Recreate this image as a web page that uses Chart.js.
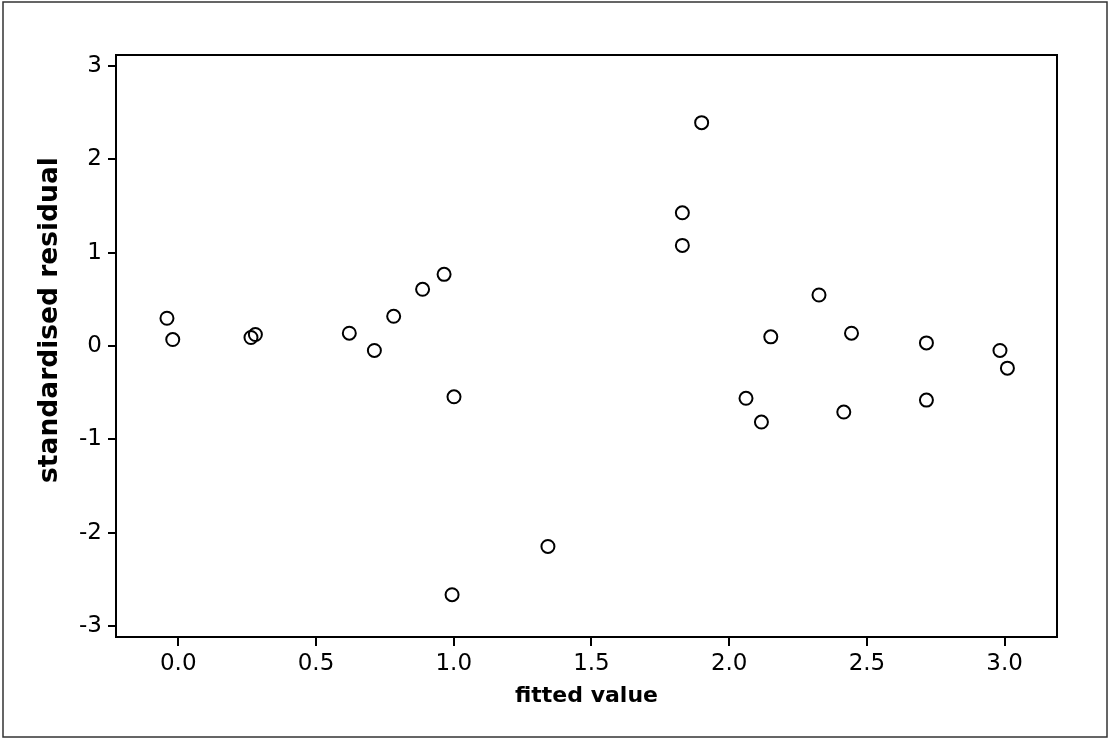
<!DOCTYPE html>
<html>
<head>
<meta charset="utf-8">
<script src="https://cdn.jsdelivr.net/npm/chart.js@4/dist/chart.umd.min.js"></script>
<style>
  html, body { margin: 0; padding: 0; background: #fff; }
  #wrap { width: 1109px; height: 738px; position: relative; }
</style>
</head>
<body>
<div id="wrap"><canvas id="residualChart"></canvas></div>
<script>
// fitted values and standardised residuals
const fittedValues = [-0.041, -0.020, 0.264, 0.280, 0.621, 0.712, 0.782, 0.887, 0.965, 1.001,
  0.994, 1.342, 1.830, 1.830, 1.900, 2.061, 2.117, 2.151, 2.326, 2.416,
  2.444, 2.716, 2.716, 2.983, 3.010];
const stdResiduals = [0.297, 0.069, 0.091, 0.123, 0.137, -0.048, 0.318, 0.607, 0.767, -0.544,
  -2.662, -2.146, 1.426, 1.077, 2.391, -0.560, -0.814, 0.098, 0.546, -0.707,
  0.137, 0.033, -0.579, -0.048, -0.237];
const xTicks = [0.0, 0.5, 1.0, 1.5, 2.0, 2.5, 3.0];
const yTicks = [-3, -2, -1, 0, 1, 2, 3];
const xTitle = "fitted value";
const yTitle = "standardised residual";

const points = fittedValues.map((x, i) => ({ x: x, y: stdResiduals[i] }));

const frame = {
  id: "frame",
  afterDraw(chart) {
    const { ctx, chartArea } = chart;
    ctx.save();
    ctx.strokeStyle = "#000";
    ctx.lineWidth = 2;
    ctx.strokeRect(chartArea.left, chartArea.top, chartArea.right - chartArea.left, chartArea.bottom - chartArea.top);
    // outer border of the figure
    ctx.strokeStyle = "#333";
    ctx.lineWidth = 1.5;
    ctx.strokeRect(3, 2, 1104, 735);
    // y axis title
    ctx.fillStyle = "#000";
    ctx.font = "bold 26.5px 'DejaVu Sans'";
    ctx.textAlign = "center";
    ctx.textBaseline = "middle";
    ctx.translate(50, 320);
    ctx.rotate(-Math.PI / 2);
    ctx.fillText(yTitle, 0, 0);
    ctx.restore();
  }
};

const tickFont = { family: "'DejaVu Sans'", size: 23 };

new Chart(document.getElementById("residualChart"), {
  type: "scatter",
  data: {
    datasets: [{
      data: points,
      pointStyle: "circle",
      pointRadius: 6.5,
      pointHoverRadius: 6.5,
      pointBorderWidth: 2,
      borderColor: "#000",
      backgroundColor: "rgba(255,255,255,0)"
    }]
  },
  options: {
    responsive: true,
    maintainAspectRatio: false,
    animation: false,
    layout: { padding: { left: 0, top: 55, right: 52, bottom: 0 } },
    plugins: { legend: { display: false }, tooltip: { enabled: false } },
    scales: {
      x: {
        type: "linear",
        min: -0.226,
        max: 3.19,
        afterFit: (scale) => { scale.height = 101; },
        afterBuildTicks: (scale) => { scale.ticks = xTicks.map(v => ({ value: v })); },
        ticks: { font: tickFont, color: "#000", padding: 4, callback: (v) => v.toFixed(1) },
        grid: { display: true, drawOnChartArea: false, drawTicks: true, tickLength: 9, color: "#000", lineWidth: 2 },
        border: { display: true, color: "#000", width: 2 },
        title: { display: true, text: xTitle, color: "#000", font: { family: "'DejaVu Sans'", size: 22, weight: "bold" }, padding: { top: 0, bottom: 29 } }
      },
      y: {
        type: "linear",
        min: -3.115,
        max: 3.115,
        afterFit: (scale) => { scale.width = 116; },
        afterBuildTicks: (scale) => { scale.ticks = yTicks.map(v => ({ value: v })); },
        ticks: { font: tickFont, color: "#000", padding: 6 },
        grid: { display: true, drawOnChartArea: false, drawTicks: true, tickLength: 8, color: "#000", lineWidth: 2 },
        border: { display: true, color: "#000", width: 2 }
      }
    }
  },
  plugins: [frame]
});
</script>
</body>
</html>
